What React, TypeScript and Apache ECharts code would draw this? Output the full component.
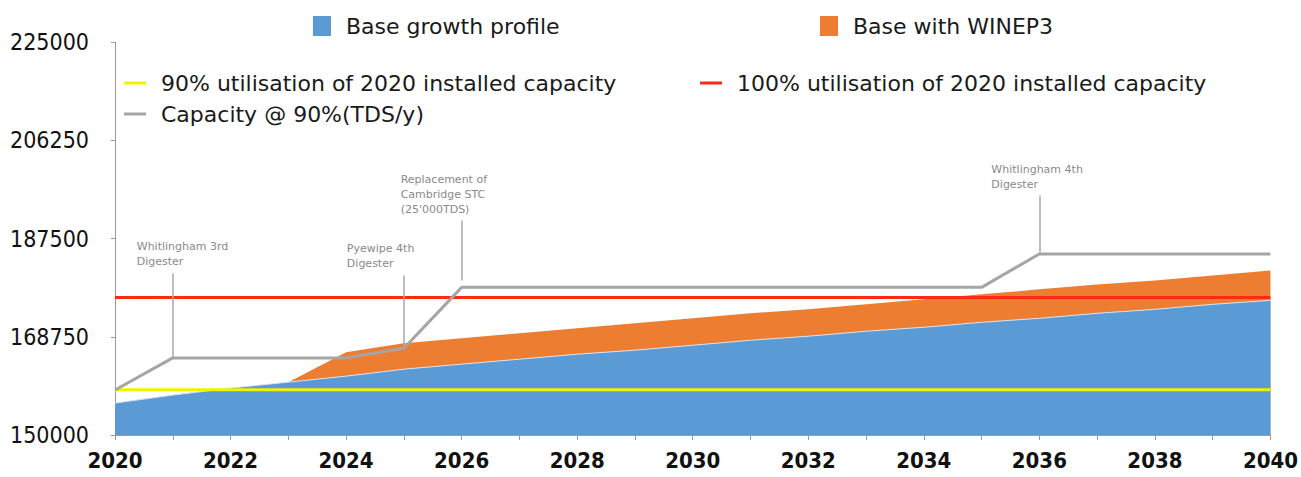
import React, { useEffect, useRef } from "react";
import * as echarts from "echarts";

const years = [2020, 2021, 2022, 2023, 2024, 2025, 2026, 2027, 2028, 2029, 2030, 2031, 2032, 2033, 2034, 2035, 2036, 2037, 2038, 2039, 2040];
const baseGrowth = [156090, 157615, 158950, 160090, 161230, 162560, 163520, 164470, 165420, 166180, 167130, 168085, 168850, 169800, 170560, 171510, 172270, 173225, 173985, 174940, 175700];
const baseWithWinep3 = [156090, 157615, 158950, 160090, 165800, 167510, 168465, 169417, 170369, 171320, 172272, 173224, 173985, 174937, 175889, 176841, 177793, 178744, 179506, 180458, 181409];
const util90 = [158625, 158625, 158625, 158625, 158625, 158625, 158625, 158625, 158625, 158625, 158625, 158625, 158625, 158625, 158625, 158625, 158625, 158625, 158625, 158625, 158625];
const util100 = [176250, 176250, 176250, 176250, 176250, 176250, 176250, 176250, 176250, 176250, 176250, 176250, 176250, 176250, 176250, 176250, 176250, 176250, 176250, 176250, 176250];
const capacity90 = [158580, 164715, 164715, 164715, 164715, 166560, 178175, 178175, 178175, 178175, 178175, 178175, 178175, 178175, 178175, 178175, 184550, 184550, 184550, 184550, 184550];
const yTicks = { min: 150000, max: 225000, step: 18750 };

const annotations = [
  { text: "Whitlingham 3rd\nDigester", year: 2021, top: 180840, bottom: 164715 },
  { text: "Pyewipe 4th\nDigester", year: 2025, top: 180460, bottom: 166560 },
  { text: "Replacement of\nCambridge STC\n(25'000TDS)", year: 2026, top: 190930, bottom: 179500 },
  { text: "Whitlingham 4th\nDigester", year: 2036, top: 195690, bottom: 184550 },
];
const annotationDx = [-36, -57, -61, -48];

const NAMES = {
  base: "Base growth profile",
  winep: "Base with WINEP3",
  u90: "90% utilisation of 2020 installed capacity",
  u100: "100% utilisation of 2020 installed capacity",
  cap: "Capacity @ 90%(TDS/y)",
};

const FONT = "'DejaVu Sans Condensed', 'DejaVu Sans', sans-serif";
const LEGEND_FONT = "'DejaVu Sans', sans-serif";
const pairs = (vals: number[]) => years.map((y, i) => [y, vals[i]]);

export default function App() {
  const ref = useRef<HTMLDivElement>(null);
  useEffect(() => {
    if (!ref.current) return;
    const chart = echarts.init(ref.current, undefined, { renderer: "svg" });
    const legendText = { fontFamily: LEGEND_FONT, fontSize: 22, color: "#1a1a1a", padding: [0, 0, 0, 10] };
    const mkLegend = (name: string, left: number, top: number, area: boolean) => ({
      data: [name],
      left,
      top,
      padding: 0,
      icon: "rect",
      itemWidth: area ? 18 : 22,
      itemHeight: area ? 20 : 3,
      selectedMode: false,
      textStyle: legendText,
    });
    chart.setOption({
      animation: false,
      backgroundColor: "#ffffff",
      grid: { left: 115, right: 28, top: 42, bottom: 42, containLabel: false },
      legend: [
        mkLegend(NAMES.base, 313, 15, true),
        mkLegend(NAMES.winep, 820, 15, true),
        mkLegend(NAMES.u90, 124, 72, false),
        mkLegend(NAMES.u100, 700, 72, false),
        mkLegend(NAMES.cap, 124, 103, false),
      ],
      xAxis: {
        type: "value",
        min: 2020,
        max: 2040,
        interval: 1,
        splitLine: { show: false },
        axisLine: { show: true, lineStyle: { color: "#9a9a9a", width: 1 } },
        axisTick: { show: true, length: 5, lineStyle: { color: "#9a9a9a" } },
        axisLabel: {
          margin: 14,
          fontFamily: FONT,
          fontSize: 22,
          fontWeight: "bold",
          color: "#111",
          formatter: (v: number) => (v % 2 === 0 ? String(v) : ""),
        },
      },
      yAxis: {
        type: "value",
        min: yTicks.min,
        max: yTicks.max,
        interval: yTicks.step,
        splitLine: { show: false },
        axisLine: { show: true, lineStyle: { color: "#9a9a9a", width: 1 } },
        axisTick: { show: true, length: 4, lineStyle: { color: "#9a9a9a" } },
        axisLabel: {
          margin: 26,
          fontFamily: FONT,
          fontSize: 23,
          fontWeight: "normal",
          color: "#111",
          formatter: (v: number) => String(v),
        },
      },
      series: [
        {
          name: NAMES.winep,
          type: "line",
          data: pairs(baseWithWinep3),
          symbol: "none",
          color: "#ED7D31",
          lineStyle: { width: 0 },
          areaStyle: { color: "#ED7D31", opacity: 1, origin: "start" },
          z: 1,
        },
        {
          name: NAMES.base,
          type: "line",
          data: pairs(baseGrowth),
          symbol: "none",
          color: "#5B9BD5",
          lineStyle: { width: 1, color: "#d9e6f3" },
          areaStyle: { color: "#5B9BD5", opacity: 1, origin: "start" },
          z: 2,
        },
        {
          name: NAMES.u90,
          type: "line",
          data: pairs(util90),
          symbol: "none",
          color: "#F2F200",
          lineStyle: { width: 3, color: "#F2F200" },
          z: 3,
        },
        {
          name: NAMES.u100,
          type: "line",
          data: pairs(util100),
          symbol: "none",
          color: "#FF2A14",
          lineStyle: { width: 3, color: "#FF2A14" },
          z: 3,
        },
        {
          name: NAMES.cap,
          type: "line",
          data: pairs(capacity90),
          symbol: "none",
          color: "#A5A5A5",
          lineStyle: { width: 3, color: "#A5A5A5" },
          z: 4,
          markLine: {
            silent: true,
            symbol: ["none", "none"],
            lineStyle: { color: "#a8a8a8", width: 1.5, type: "solid" },
            label: { show: false },
            data: annotations.map((a) => [
              { coord: [a.year, a.top] },
              { coord: [a.year, a.bottom] },
            ]),
          },
          markPoint: {
            silent: true,
            symbol: "circle",
            symbolSize: 0,
            data: annotations.map((a, i) => ({
              coord: [a.year, a.top],
              itemStyle: { color: "transparent" },
              label: {
                show: true,
                formatter: a.text,
                position: [annotationDx[i], -4],
                align: "left",
                verticalAlign: "bottom",
                fontFamily: "'DejaVu Sans', sans-serif",
                fontSize: 11,
                lineHeight: 15,
                color: "#8a8a8a",
              },
            })),
          },
        },
      ],
    });
    return () => chart.dispose();
  }, []);
  return (
    <div
      ref={ref}
      style={{ position: "fixed", left: 0, top: 0, width: 1301, height: 477, background: "#fff" }}
    />
  );
}
